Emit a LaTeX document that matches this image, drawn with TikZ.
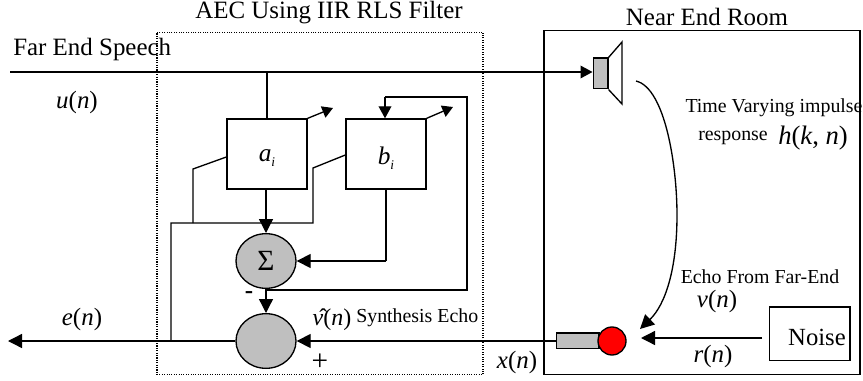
\documentclass[tikz,border=0pt]{standalone}
\usepackage{fontspec}
\setmainfont{Liberation Serif}
\usetikzlibrary{arrows.meta,shapes.geometric,calc}
\newcommand{\vr}[1]{\textit{#1}}
\tikzset{
  wire/.style={draw=black,line width=1pt},
  arr/.style={wire,-{Triangle[length=10.5pt,width=10.5pt]}},
  smallarr/.style={wire,-{Triangle[length=9pt,width=9.5pt]}},
  blockbox/.style={draw=black,line width=1pt,fill=white,rectangle,minimum width=60pt,minimum height=52.5pt,inner sep=0pt},
  sumnode/.style={draw=black,line width=1pt,fill=black!25,ellipse,minimum width=45pt,minimum height=41pt,inner sep=0pt},
  lab/.style={inner sep=0pt,font=\fontsize{18.7pt}{20pt}\selectfont},
  smalllab/.style={inner sep=0pt,font=\fontsize{14.9pt}{17pt}\selectfont},
}
\begin{document}
\begin{tikzpicture}[x=0.75pt,y=-0.75pt]
\useasboundingbox (0,0) rectangle (863,381);
% frames
\node[draw=black,densely dotted,line width=0.8pt,rectangle,minimum width=244.5pt,minimum height=257pt,inner sep=0pt] (aec) at (320,203.5) {};
\node[draw=black,line width=1pt,rectangle,minimum width=237pt,minimum height=257.5pt,inner sep=0pt] (room) at (702,202.5) {};
% titles
\node[lab] (aect) at (329,13) {AEC Using IIR RLS Filter};
\node[lab] (roomt) at (707,17) {Near End Room};
% blocks
\node[blockbox] (a) at (267,154) {};
\node[blockbox] (b) at (386,154) {};
\node[inner sep=0pt] (al) at (267,158) {\fontsize{19pt}{20pt}\selectfont\vr{a}\raisebox{-4pt}{\fontsize{10pt}{11pt}\selectfont\vr{i}}};
\node[inner sep=0pt] (bl) at (386,158) {\fontsize{19pt}{20pt}\selectfont\vr{b}\raisebox{-4pt}{\fontsize{10pt}{11pt}\selectfont\vr{i}}};
\node[sumnode] (s) at (266,261) {\fontsize{22pt}{24pt}\selectfont Σ};
\node[sumnode] (d) at (266,341) {};
% speaker
\node[draw=black,line width=1pt,fill=black!25,rectangle,minimum width=11pt,minimum height=23pt,inner sep=0pt] (spk) at (600.5,73.5) {};
\coordinate (c1) at (622,42);
\coordinate (c2) at (622,104);
\draw[wire] (spk.north east) -- (c1) -- (c2) -- (spk.south east);
% mic
\node[draw=black,line width=1pt,fill=black!25,rectangle,minimum width=32pt,minimum height=11.5pt,inner sep=0pt] (mic) at (577.5,340.5) {};
\node[draw=black,line width=1pt,fill=red,circle,minimum size=21pt,inner sep=0pt] (head) at (612,341) {};
% noise
\node[draw=black,line width=1pt,rectangle,minimum width=60.5pt,minimum height=40pt,inner sep=0pt] (noise) at (809.5,333.5) {};
\node[inner sep=0pt,font=\fontsize{18.5pt}{20pt}\selectfont] (nl) at (817,337) {Noise};
% far-end line
\coordinate (fs) at (10,72);
\coordinate (ftap) at (267,72);
\draw[smallarr] (fs) -- (spk.west |- fs);
\draw[wire] (ftap) -- (ftap |- a.north);
% a adapt
\coordinate (aout) at (333,108);
\coordinate (bout) at (453,107);
\draw[wire,-{Triangle[length=8pt,width=9pt]}] (a.north east) -- (aout);
\draw[wire,-{Triangle[length=8pt,width=9pt]}] (b.north east) -- (bout);
% feedback to b
\coordinate (fb1) at (385,97);
\coordinate (fb2) at (467,97);
\coordinate (fb3) at (467,290);
\coordinate (fb4) at (267,290);
\draw[wire] (fb4) -- (fb3) -- (fb2) -- (fb1);
\draw[smallarr] (fb1) -- (fb1 |- b.north);
% forward paths
\draw[arr] (a.south -| s.north) -- (s.north);
\coordinate (bd) at (386,261);
\draw[wire] (b.south -| bd) -- (bd);
\draw[arr] (bd) -- (s.east);
\draw[arr] (s.south) -- (d.north);
% error feedback
\coordinate (e0) at (171,341);
\coordinate (e1) at (171,223);
\coordinate (e2) at (193,223);
\coordinate (e3) at (313,223);
\coordinate (e4) at (313,168);
\coordinate (e5) at (193,169);
\draw[wire] (e0) -- (e1) -- (e3) -- (e4) -- (b.west |- 0,155);
\draw[wire] (e2) -- (e5) -- (a.west |- 0,157);
% output
\coordinate (out) at (8,341);
\draw[arr] (d.west) -- (out);
% input from mic
\draw[arr] (mic.west |- d.east) -- (d.east);
% echo curve
\coordinate (cs) at (636,81);
\coordinate (ce) at (640,329);
\draw[wire,-{Triangle[length=10.5pt,width=10.5pt]}] (cs) .. controls (665,88) and (677,165) .. (677,215) .. controls (677,270) and (665,305) .. (ce);
% noise arrow
\coordinate (nst) at (762,338);
\coordinate (nen) at (641,338);
\draw[arr] (nst) -- (nen);
% labels
\node[lab,anchor=west] (t1) at (13,50) {Far End Speech};
\node[lab] (t2) at (77,103) {\vr{u}(\vr{n})};
\node[lab] (t3) at (82,320) {\vr{e}(\vr{n})};
\node[lab] (t4) at (517,363) {\vr{x}(\vr{n})};
\node[inner sep=0pt,font=\fontsize{22pt}{24pt}\selectfont] (t5) at (320,362) {+};
\node[inner sep=0pt,font=\bfseries\fontsize{18.7pt}{20pt}\selectfont] (t6) at (249,295) {-};
\node[lab,font=\fontsize{18pt}{20pt}\selectfont] (t7) at (332,320) {\^{\vr{v}}(\vr{n})};
\node[smalllab,anchor=west] (t8) at (356,318) {Synthesis Echo};
\node[smalllab] (t9) at (774,108) {Time Varying impulse};
\node[smalllab,anchor=west] (t10) at (698,138) {response};
\node[lab,font=\fontsize{20pt}{22pt}\selectfont,anchor=west] (t11) at (778,138) {\vr{h}(\vr{k}, \vr{n})};
\node[smalllab] (t12) at (760,277) {Echo From Far-End};
\node[lab] (t13) at (717,302) {\vr{v}(\vr{n})};
\node[lab] (t14) at (713,357) {\vr{r}(\vr{n})};
\end{tikzpicture}
\end{document}
